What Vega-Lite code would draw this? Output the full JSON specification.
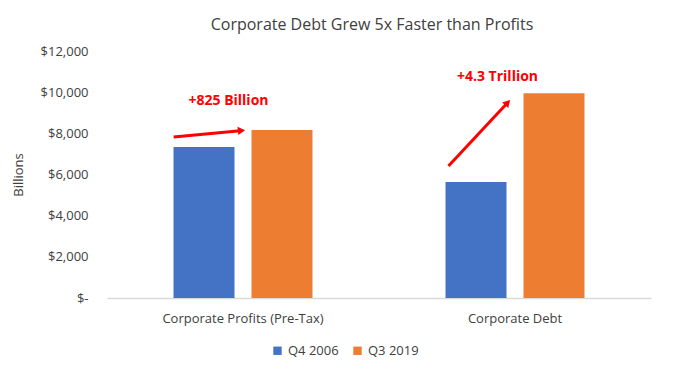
{
  "$schema": "https://vega.github.io/schema/vega-lite/v6.json",
  "autosize": "none",
  "width": 544,
  "height": 247,
  "padding": {"left": 107, "top": 51, "right": 27, "bottom": 74},
  "background": "white",
  "config": {
    "font": "Open Sans",
    "view": {"stroke": null}
  },
  "title": {
    "text": "Corporate Debt Grew 5x Faster than Profits",
    "fontSize": 16,
    "fontWeight": "normal",
    "color": "#404040",
    "offset": 12,
    "dx": -7,
    "font": "Open Sans"
  },
  "datasets": {
    "bars": [
      {"category": "Corporate Profits (Pre-Tax)", "period": "Q4 2006", "value": 7340},
      {"category": "Corporate Profits (Pre-Tax)", "period": "Q3 2019", "value": 8165},
      {"category": "Corporate Debt", "period": "Q4 2006", "value": 5640},
      {"category": "Corporate Debt", "period": "Q3 2019", "value": 9945}
    ],
    "arrows": [
      {"arrow": "profits", "x1": 0.245, "y1": 7822, "x2": 0.49, "y2": 8130},
      {"arrow": "debt", "x1": 1.2555, "y1": 6413, "x2": 1.47, "y2": 9450}
    ],
    "labels": [
      {"text": "+825 Billion", "x": 0.4467, "y": 9571},
      {"text": "+4.3 Trillion", "x": 1.4357, "y": 10737}
    ]
  },
  "layer": [
    {
      "data": {"name": "bars"},
      "mark": {"type": "bar"},
      "encoding": {
        "x": {
          "field": "category",
          "type": "nominal",
          "sort": ["Corporate Profits (Pre-Tax)", "Corporate Debt"],
          "scale": {"paddingInner": 0, "paddingOuter": 0},
          "axis": {
            "title": null,
            "labelAngle": 0,
            "labelFontSize": 13,
            "labelColor": "#404040",
            "labelPadding": 14,
            "ticks": false,
            "domainColor": "#d9d9d9",
            "domainWidth": 1.3
          }
        },
        "xOffset": {
          "field": "period",
          "type": "nominal",
          "sort": ["Q4 2006", "Q3 2019"],
          "scale": {"paddingInner": 0.218, "paddingOuter": 0.853}
        },
        "y": {
          "field": "value",
          "type": "quantitative",
          "scale": {"domain": [0, 12000], "nice": false},
          "axis": {
            "title": "Billions",
            "titleFontSize": 13,
            "titleFontWeight": "normal",
            "titleColor": "#404040",
            "titlePadding": 15,
            "values": [0, 2000, 4000, 6000, 8000, 10000, 12000],
            "labelExpr": "datum.value == 0 ? '$-' : '$' + format(datum.value, ',')",
            "labelFontSize": 13,
            "labelColor": "#404040",
            "labelPadding": 19,
            "domain": false,
            "ticks": false,
            "grid": false
          }
        },
        "color": {
          "field": "period",
          "type": "nominal",
          "sort": ["Q4 2006", "Q3 2019"],
          "scale": {"range": ["#4472c4", "#ed7d31"]},
          "legend": {
            "title": null,
            "orient": "none",
            "legendX": 164,
            "legendY": 293,
            "direction": "horizontal",
            "symbolType": "square",
            "symbolSize": 70,
            "symbolStrokeWidth": 0,
            "labelFontSize": 13,
            "labelColor": "#404040",
            "columnPadding": 12,
            "labelOffset": 4
          }
        }
      }
    },
    {
      "data": {"name": "arrows"},
      "mark": {"type": "rule", "color": "#ff0000", "strokeWidth": 3},
      "encoding": {
        "x": {"field": "x1", "type": "quantitative", "scale": {"domain": [0, 2]}, "axis": null},
        "x2": {"field": "x2"},
        "y": {"field": "y1", "type": "quantitative"},
        "y2": {"field": "y2"}
      }
    },
    {
      "data": {"name": "arrows"},
      "transform": [{"filter": "datum.arrow == 'profits'"}],
      "mark": {"type": "point", "shape": "triangle", "filled": true, "color": "#ff0000", "size": 70, "angle": 84, "opacity": 1},
      "encoding": {
        "x": {"field": "x2", "type": "quantitative", "scale": {"domain": [0, 2]}, "axis": null},
        "y": {"field": "y2", "type": "quantitative"}
      }
    },
    {
      "data": {"name": "arrows"},
      "transform": [{"filter": "datum.arrow == 'debt'"}],
      "mark": {"type": "point", "shape": "triangle", "filled": true, "color": "#ff0000", "size": 70, "angle": 43, "opacity": 1},
      "encoding": {
        "x": {"field": "x2", "type": "quantitative", "scale": {"domain": [0, 2]}, "axis": null},
        "y": {"field": "y2", "type": "quantitative"}
      }
    },
    {
      "data": {"name": "labels"},
      "mark": {"type": "text", "color": "#ff0000", "fontWeight": "bold", "fontSize": 14, "font": "Open Sans", "align": "center", "baseline": "middle"},
      "encoding": {
        "x": {"field": "x", "type": "quantitative", "scale": {"domain": [0, 2]}, "axis": null},
        "y": {"field": "y", "type": "quantitative"},
        "text": {"field": "text"}
      }
    }
  ],
  "resolve": {"scale": {"x": "independent"}}
}
